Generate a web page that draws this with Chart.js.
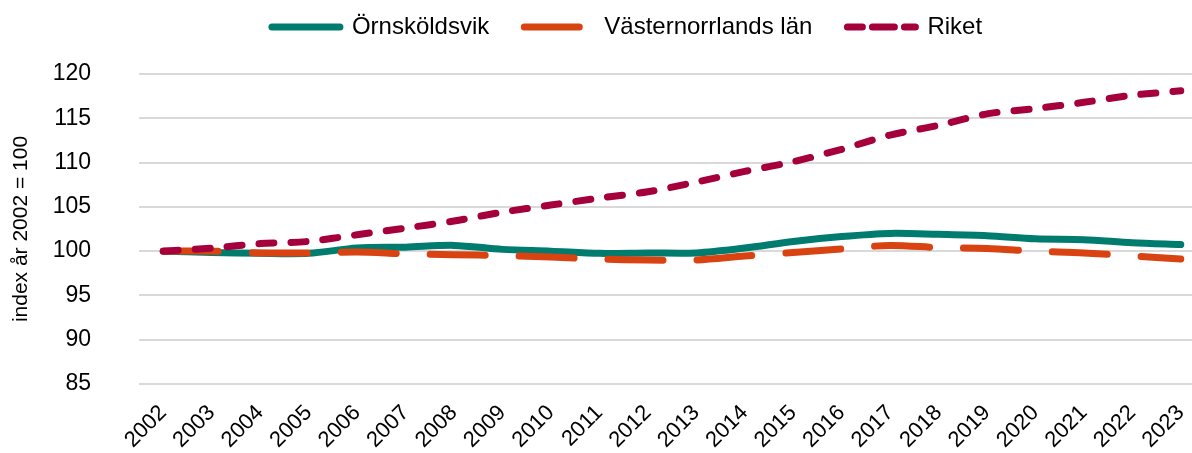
<!DOCTYPE html>
<html>
<head>
<meta charset="utf-8">
<script src="https://cdn.jsdelivr.net/npm/chart.js@4"></script>
<style>
  html, body { margin: 0; padding: 0; background: #fff; overflow: hidden; }
  #wrap { width: 1254px; height: 453px; }
</style>
</head>
<body>
<div id="wrap"><canvas id="chart"></canvas></div>
<script>
const years = ["2002", "2003", "2004", "2005", "2006", "2007", "2008", "2009", "2010", "2011", "2012",
  "2013", "2014", "2015", "2016", "2017", "2018", "2019", "2020", "2021", "2022", "2023"];

const ornskoldsvik = [100, 99.85, 99.75, 99.75, 100.35, 100.45, 100.65, 100.2, 100.0, 99.75, 99.8,
  99.8, 100.35, 101.1, 101.65, 102.0, 101.9, 101.75, 101.4, 101.3, 100.95, 100.75];
const vasternorrland = [100, 100.0, 99.8, 99.8, 99.9, 99.7, 99.6, 99.5, 99.35, 99.1, 99.0,
  99.0, 99.45, 99.85, 100.25, 100.65, 100.4, 100.3, 100.0, 99.8, 99.45, 99.1];
const riket = [100, 100.35, 100.85, 101.1, 101.85, 102.6, 103.4, 104.4, 105.2, 106.0, 106.7,
  107.8, 109.0, 110.1, 111.5, 113.1, 114.2, 115.5, 116.1, 116.8, 117.6, 118.1];

const yMin = 85;
const yMax = 120;
const yStep = 5;

const font = "'Liberation Sans', Arial, sans-serif";

// legend sits higher than its padding would put it
const liftLegend = {
  id: "liftLegend",
  afterLayout(chart) {
    chart.legend.top -= 25;
    chart.legend.bottom -= 25;
  }
};

new Chart(document.getElementById("chart"), {
  type: "line",
  data: {
    labels: years,
    datasets: [
      {
        label: "Örnsköldsvik",
        data: ornskoldsvik,
        borderColor: "#007c6e",
        backgroundColor: "#007c6e",
        borderWidth: 7,
        borderCapStyle: "round",
        borderJoinStyle: "round",
        order: 3
      },
      {
        label: "Västernorrlands län",
        data: vasternorrland,
        borderColor: "#d94312",
        backgroundColor: "#d94312",
        borderWidth: 7,
        borderDash: [55, 34],
        borderCapStyle: "round",
        borderJoinStyle: "round",
        order: 2
      },
      {
        label: "Riket",
        data: riket,
        borderColor: "#a6003c",
        backgroundColor: "#a6003c",
        borderWidth: 7,
        borderDash: [15, 17],
        borderCapStyle: "round",
        borderJoinStyle: "round",
        order: 1
      }
    ]
  },
  plugins: [liftLegend],
  options: {
    responsive: true,
    maintainAspectRatio: false,
    animation: false,
    layout: { padding: { top: 5 } },
    elements: {
      point: { radius: 0 },
      line: { tension: 0.3 }
    },
    plugins: {
      tooltip: { enabled: false },
      legend: {
        position: "top",
        labels: {
          font: { family: font, size: 24 },
          color: "#000",
          boxWidth: 68,
          boxHeight: 0,
          padding: 35,
          sort: (a, b) => a.datasetIndex - b.datasetIndex
        }
      }
    },
    scales: {
      x: {
        offset: true,
        grid: { display: false },
        border: { display: false },
        ticks: {
          font: { family: font, size: 22 },
          color: "#000",
          maxRotation: 45,
          minRotation: 45,
          autoSkip: false,
          padding: 8
        },
        afterFit: scale => { scale.height = 69; }
      },
      y: {
        min: yMin,
        max: yMax,
        grid: { color: "#d9d9d9", lineWidth: 2, drawTicks: false },
        border: { display: false },
        ticks: {
          stepSize: yStep,
          font: { family: font, size: 23 },
          color: "#000",
          padding: 48
        },
        title: {
          display: true,
          text: "index år 2002 = 100",
          font: { family: font, size: 21 },
          color: "#000",
          padding: { top: 9, bottom: 0 }
        },
        afterFit: scale => { scale.width = 139; }
      },
      right: {
        position: "right",
        display: true,
        grid: { display: false },
        border: { display: false },
        ticks: { display: false },
        afterFit: scale => { scale.width = 49; }
      }
    }
  }
});
</script>
</body>
</html>
